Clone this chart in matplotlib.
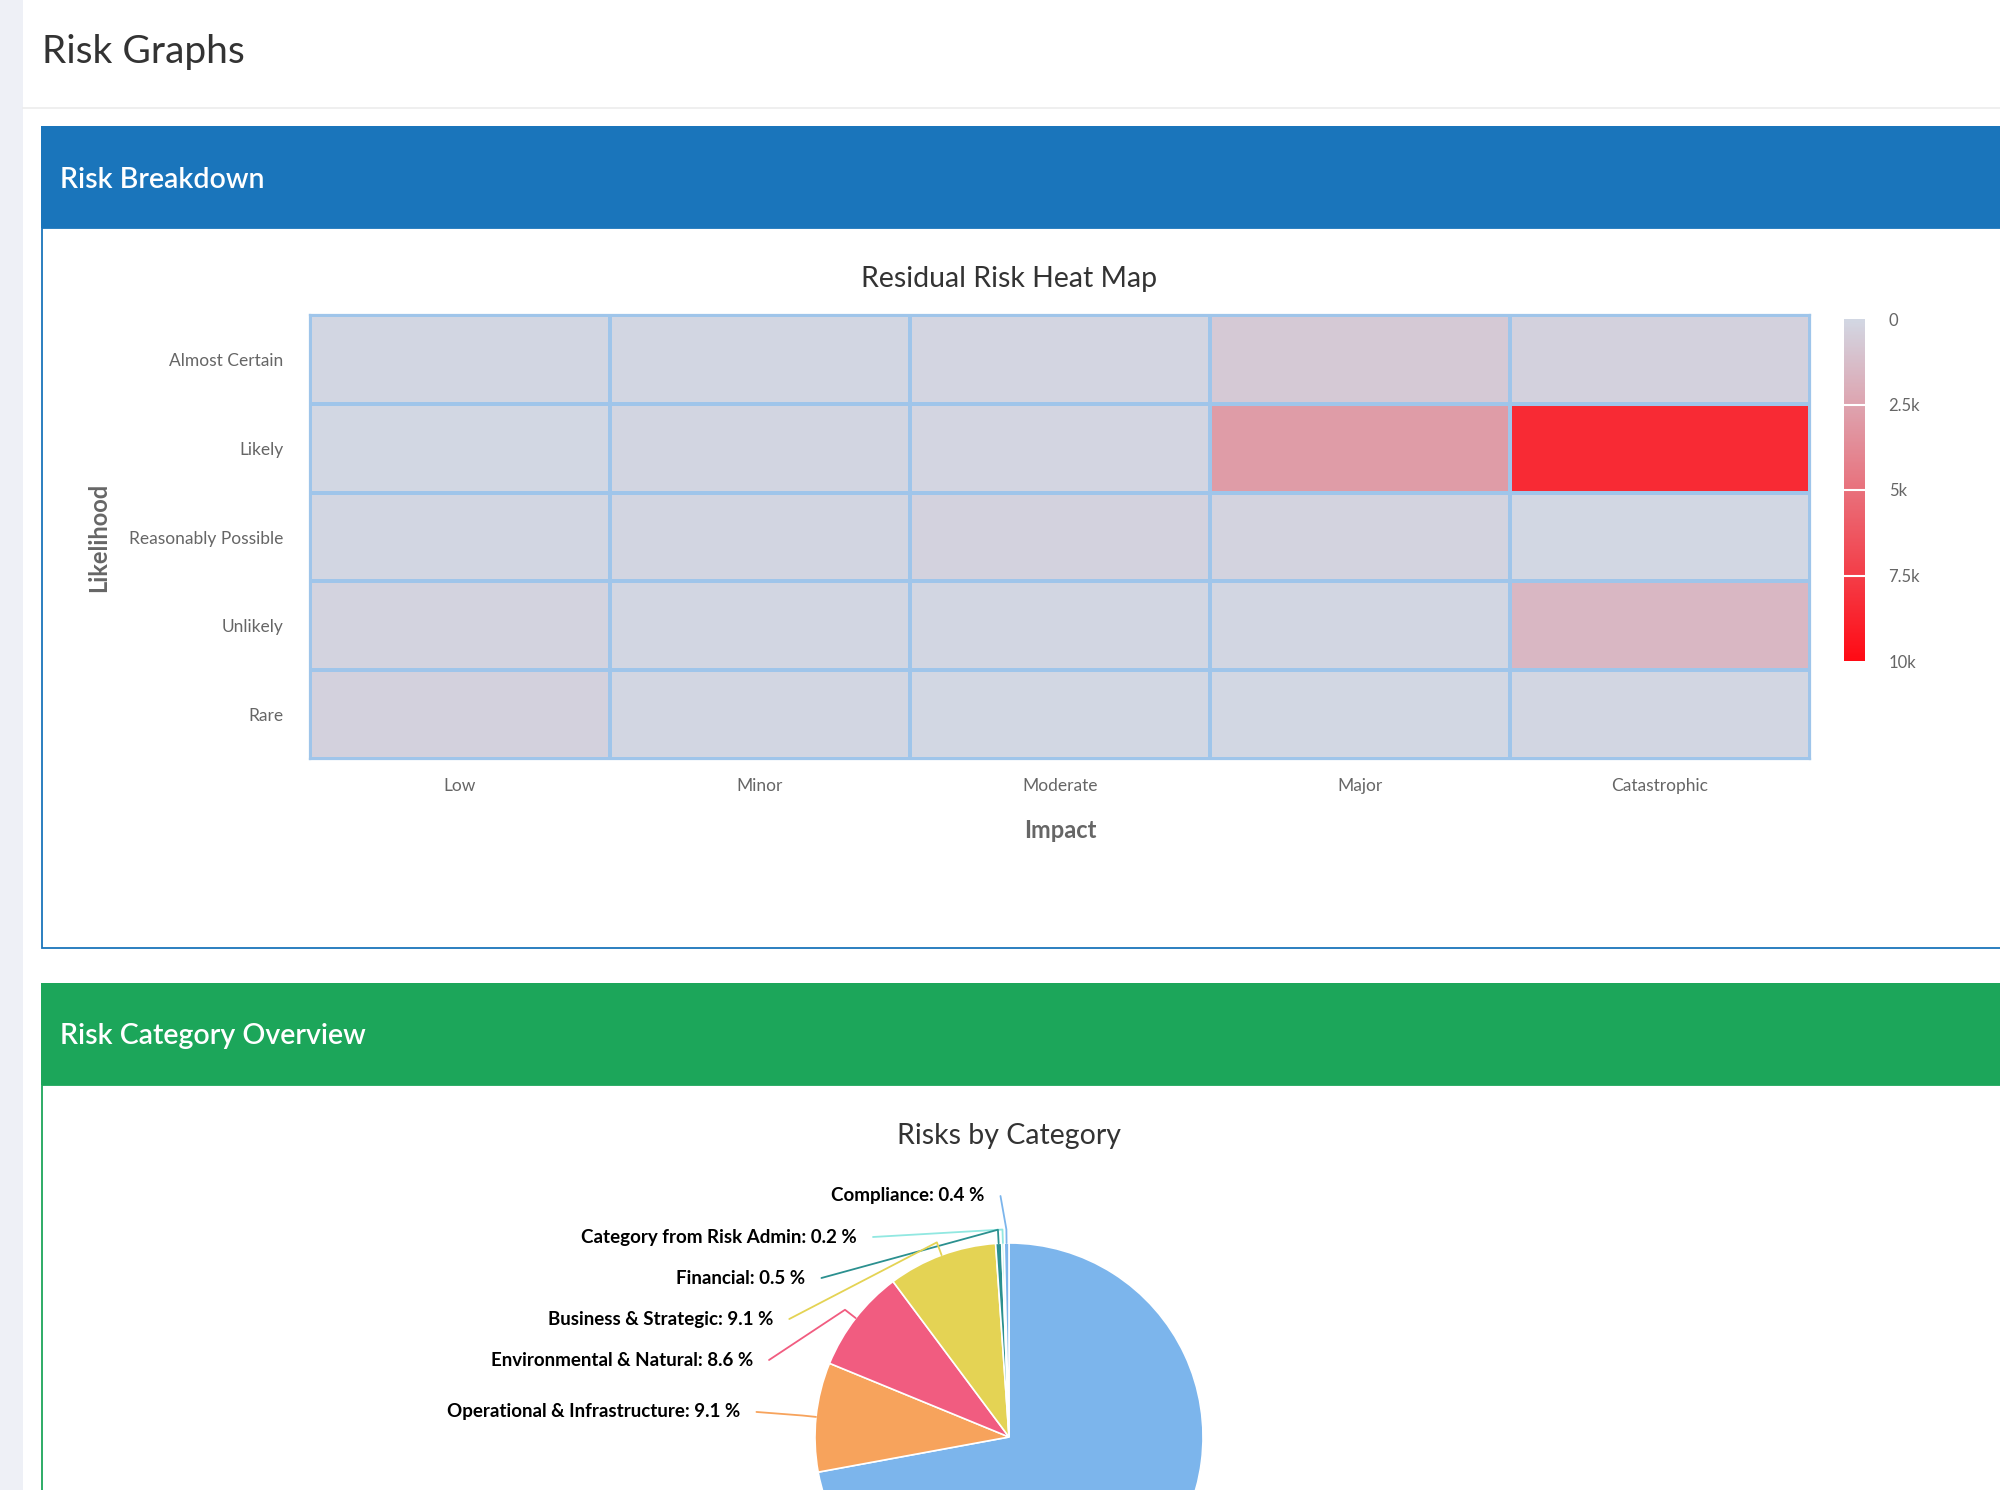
import numpy as np
import matplotlib
matplotlib.use('Agg')
import matplotlib.pyplot as plt
from matplotlib.colors import LinearSegmentedColormap, Normalize
from matplotlib.patches import Rectangle

# ---------------- data ----------------
impact = ['Low', 'Minor', 'Moderate', 'Major', 'Catastrophic']
likelihood = ['Almost Certain', 'Likely', 'Reasonably Possible', 'Unlikely', 'Rare']
risk_almost_certain = [40, 60, 150, 700, 300]
risk_likely = [30, 80, 150, 2900, 8400]
risk_reasonably_possible = [60, 100, 250, 200, 30]
risk_unlikely = [200, 60, 40, 40, 1600]
risk_rare = [300, 40, 30, 30, 40]
cbar_ticks = [0, 2500, 5000, 7500, 10000]
cbar_labels = ['0', '2.5k', '5k', '7.5k', '10k']

categories = ['Other', 'Operational & Infrastructure', 'Environmental & Natural',
              'Business & Strategic', 'Financial', 'Category from Risk Admin', 'Compliance']
shares = [72.1, 9.1, 8.6, 9.1, 0.5, 0.2, 0.4]
pie_colors = ['#7cb5ec', '#f7a35c', '#f15c80', '#e4d354', '#2b908f', '#91e8e1', '#7cb5ec']

# ---------------- figure ----------------
W, H = 2000, 1490
plt.rcParams['font.family'] = ['Lato', 'DejaVu Sans']
fig = plt.figure(figsize=(W / 100, H / 100), dpi=100)
fig.patch.set_facecolor('white')


def fr(x0, y0, x1, y1):
    return [x0 / W, 1 - y1 / H, (x1 - x0) / W, (y1 - y0) / H]


bg = fig.add_axes([0, 0, 1, 1], zorder=0)
bg.set_xlim(0, W)
bg.set_ylim(H, 0)
bg.axis('off')

bg.add_patch(Rectangle((0, 0), 23, H, fc='#eef0f6', ec='none'))
bg.plot([23, W], [108, 108], color='#ececec', lw=1.2)
bg.text(42, 52, 'Risk Graphs', fontsize=28, color='#333333', va='center', ha='left')

# blue panel
bg.add_patch(Rectangle((42, 228), 2000, 720, fc='white', ec='#1a75bb', lw=1.3))
bg.add_patch(Rectangle((41, 126), 2000, 102, fc='#1a75bb', ec='none'))
bg.text(60, 180, 'Risk Breakdown', fontsize=20.5, color='white', va='center',
        ha='left', fontweight='semibold')

# green panel
bg.add_patch(Rectangle((42, 1085), 2000, 450, fc='white', ec='#1ca65a', lw=1.3))
bg.add_patch(Rectangle((41, 983), 2000, 102, fc='#1ca65a', ec='none'))
bg.text(60, 1036, 'Risk Category Overview', fontsize=20.5, color='white', va='center',
        ha='left', fontweight='semibold')

# ---------------- heat map ----------------
bg.text(1009, 279, 'Residual Risk Heat Map', fontsize=20.5, color='#333333',
        ha='center', va='center')

cmap = LinearSegmentedColormap.from_list('risk', ['#d2d7e3', '#ff0a14'])
norm = Normalize(vmin=cbar_ticks[0], vmax=cbar_ticks[-1])
grid = np.array([risk_almost_certain, risk_likely, risk_reasonably_possible,
                 risk_unlikely, risk_rare])

hm = fig.add_axes(fr(310, 315, 1810, 759), zorder=2)
mesh = hm.pcolormesh(grid, cmap=cmap, norm=norm, edgecolors='#9fc5ea', linewidth=1.5)
hm.set_ylim(len(likelihood), 0)
hm.set_xlim(0, len(impact))
hm.set_xticks(np.arange(len(impact)) + 0.5)
hm.set_xticklabels(impact)
hm.set_yticks(np.arange(len(likelihood)) + 0.5)
hm.set_yticklabels(likelihood)
hm.tick_params(axis='both', length=0, labelsize=12.5, labelcolor='#666666')
hm.tick_params(axis='y', pad=19)
hm.tick_params(axis='x', pad=14)
for s in hm.spines.values():
    s.set_color('#9fc5ea')
    s.set_linewidth(1.6)

bg.text(1060, 831, 'Impact', fontsize=17, fontweight='bold', color='#666666',
        ha='center', va='center')
bg.text(99, 537, 'Likelihood', fontsize=17, fontweight='bold', color='#666666',
        ha='center', va='center', rotation=90)

cax = fig.add_axes(fr(1844, 319, 1865, 661), zorder=2)
cb = fig.colorbar(mesh, cax=cax)
cax.invert_yaxis()
cb.set_ticks(cbar_ticks)
cb.set_ticklabels(cbar_labels)
cb.outline.set_visible(False)
cax.tick_params(length=0, pad=17, labelsize=12, labelcolor='#666666')
for t in cbar_ticks[1:-1]:
    cax.axhline(t, color='white', lw=1.5)

# ---------------- pie ----------------
bg.text(1009, 1136, 'Risks by Category', fontsize=20.5, color='#333333',
        ha='center', va='center')

R = 194.0
cx, cy = 1009.0, 1437.0
ax_x0, ax_x1, ax_y0, ax_y1 = 409, 1609, 1150, 1490
pa = fig.add_axes(fr(ax_x0, ax_y0, ax_x1, ax_y1), zorder=2)
wedges, _ = pa.pie(shares, colors=pie_colors, startangle=90, counterclock=False,
                   radius=1, wedgeprops=dict(edgecolor='white', linewidth=1.2))
pa.set_aspect('auto')
pa.set_xlim((ax_x0 - cx) / R, (ax_x1 - cx) / R)
pa.set_ylim((cy - ax_y1) / R, (cy - ax_y0) / R)
pa.axis('off')

a_ell, b_ell = 270 / R, 242 / R
top_y = (cy - 1196) / R
gap = 41 / R
anchor_off = 16 / R
bottom_lim = (cy - ax_y1) / R + 0.05

left = []
for w, name, val, col in zip(wedges, categories, shares, pie_colors):
    mid = np.deg2rad((w.theta1 + w.theta2) / 2)
    if np.cos(mid) < 0:
        left.append((b_ell * np.sin(mid), mid, name, val, col))
left.sort(key=lambda t: -t[0])

prev = top_y + gap
for nat, mid, name, val, col in left:
    y = min(nat, prev - gap)
    prev = y
    if y < bottom_lim:
        continue
    xr = -a_ell * np.sqrt(max(0.0, 1 - (y / b_ell) ** 2))
    pa.text(xr, y, f'{name}: {val:.1f} %', ha='right', va='center', fontsize=13.5,
            fontweight='bold', color='black')
    ex, ey = np.cos(mid), np.sin(mid)
    bx, by = 1.07 * ex, 1.07 * ey
    pa.plot([xr + anchor_off, bx, ex], [y, by, ey], color=col, lw=1.3,
            solid_capstyle='round')

fig.savefig('out.png', dpi=100, facecolor='white')
